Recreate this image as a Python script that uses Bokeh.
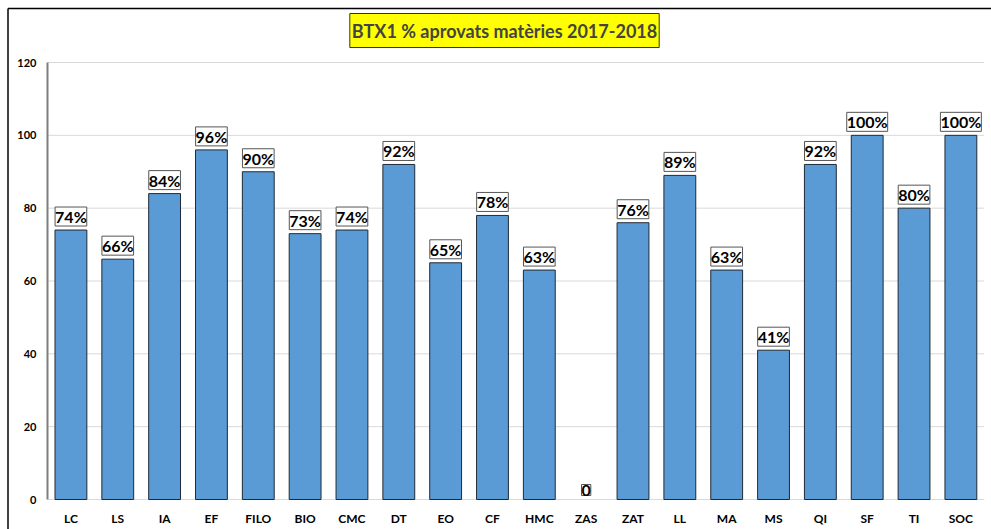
from bokeh.plotting import figure
from bokeh.models import ColumnDataSource, LabelSet, Label, Range1d
from bokeh.core.properties import value
from bokeh.embed import file_html
from bokeh.resources import INLINE

categories = ["LC", "LS", "IA", "EF", "FILO", "BIO", "CMC", "DT", "EO", "CF",
              "HMC", "ZAS", "ZAT", "LL", "MA", "MS", "QI", "SF", "TI", "SOC"]
values = [74, 66, 84, 96, 90, 73, 74, 92, 65, 78,
          63, 0, 76, 89, 63, 41, 92, 100, 80, 100]
labels = [f"{v}%" if v > 0 else "0" for v in values]
y_ticks = [0, 20, 40, 60, 80, 100, 120]
title_text = "BTX1 % aprovats matèries 2017-2018"

FONT = "Lato"
W, H = 991, 529
# layout of the plotting area (pixels inside the figure)
PX_LEFT, PX_TOP, PX_ZERO = 47, 62, 499
N = len(categories)
px_per_cat = 46.84
px_per_unit = (PX_ZERO - PX_TOP) / y_ticks[-1]

def xd(px):
    return (px - PX_LEFT) / px_per_cat

def yd(py):
    return (PX_ZERO - py) / px_per_unit

xs = [i + 0.5 for i in range(N)]
bar_line = ["#1F2A36" if v > 0 else None for v in values]
src = ColumnDataSource(dict(x=xs, val=values, lab=labels, cat=categories,
                            base=[0] * N, lc=bar_line))
tick_src = ColumnDataSource(dict(x=[0] * len(y_ticks), y=y_ticks,
                                 t=[str(t) for t in y_ticks],
                                 x1=[N] * len(y_ticks)))

p = figure(x_range=Range1d(xd(0), xd(W)), y_range=Range1d(yd(H), yd(0)),
           width=W, height=H, output_backend="svg", toolbar_location=None,
           x_axis_type=None, y_axis_type=None,
           min_border_left=0, min_border_top=0, min_border_bottom=0, min_border_right=0)
p.outline_line_color = None
p.grid.visible = False

# horizontal grid lines
p.segment(x0="x", y0="y", x1="x1", y1="y", source=tick_src,
          line_color="#D9D9D9", line_width=1)

# bars
p.vbar(x="x", top="val", width=0.68, source=src,
       fill_color="#5B9BD5", line_color="lc", line_width=1)

# y axis line
p.segment(x0=[0], y0=[y_ticks[0]], x1=[0], y1=[y_ticks[-1]],
          line_color="#7F7F7F", line_width=2)

# y tick labels
p.add_layout(LabelSet(x="x", y="y", text="t", source=tick_src, x_offset=-11,
                      text_align="right", text_baseline="middle",
                      text_font=value(FONT), text_font_style="bold",
                      text_font_size="11px", text_color="black"))

# value labels
p.add_layout(LabelSet(x="x", y="val", text="lab", source=src, y_offset=4,
                      text_align="center", text_baseline="bottom",
                      text_font=value(FONT), text_font_style="bold",
                      text_font_size="16px", text_color="black",
                      background_fill_color="white", border_line_color="#555555",
                      border_line_width=1))

# category labels
p.add_layout(LabelSet(x="x", y="base", text="cat", source=src, y_offset=-19,
                      text_align="center", text_baseline="middle",
                      text_font=value(FONT), text_font_style="bold",
                      text_font_size="12px", text_color="black"))

# title
p.add_layout(Label(x=xd(504), y=yd(30), text=title_text, text_align="center",
                   text_baseline="middle", text_font=FONT, text_font_style="bold",
                   text_font_size="18px", background_fill_color="#FFFF00",
                   border_line_color="#333333", border_line_width=1, padding=(2, 6)))

# outer chart border (left and top edges)
p.segment(x0=[xd(7.5), xd(7.5)], y0=[yd(8), yd(8)], x1=[xd(7.5), xd(W + 5)],
          y1=[yd(H + 5), yd(8)], line_color="black", line_width=1.5)

open("out.html", "w").write(file_html(p, INLINE))
